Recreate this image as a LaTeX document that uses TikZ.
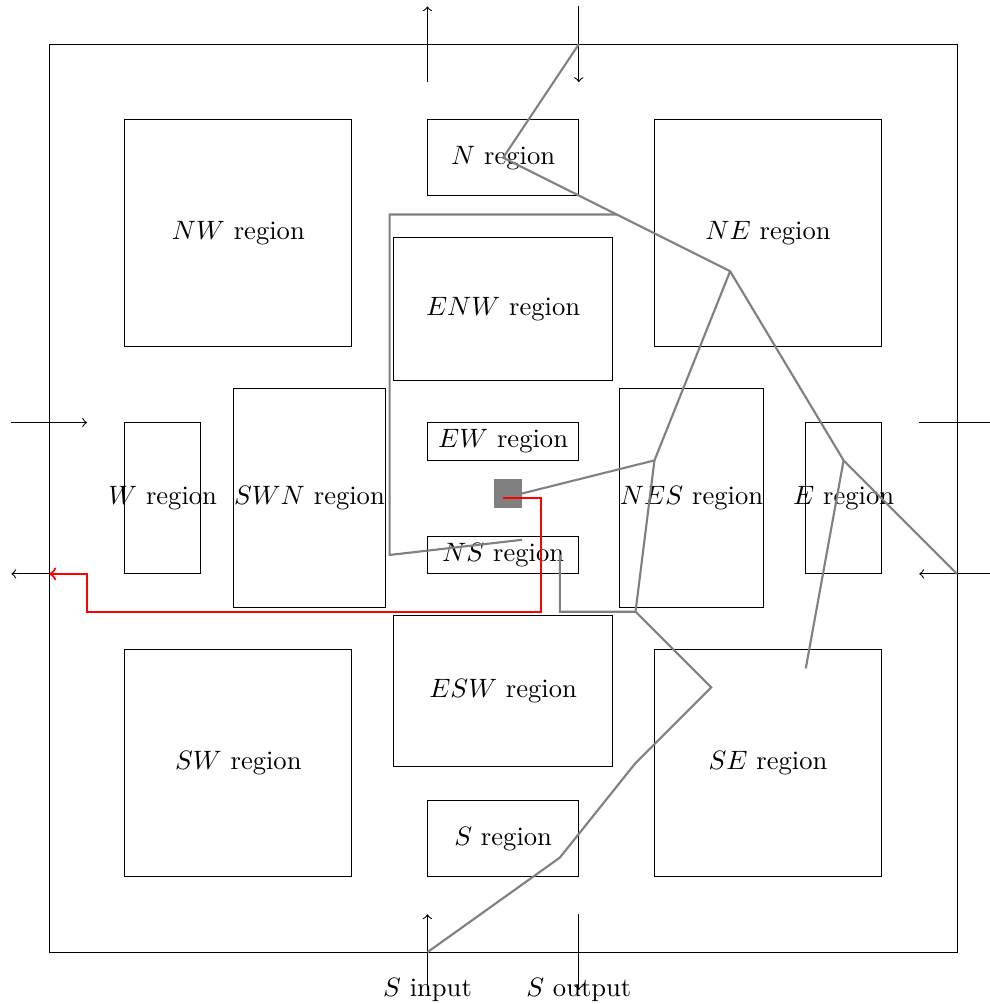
\documentclass[tikz,border=0pt]{standalone}
\usetikzlibrary{positioning,calc}
\tikzset{
  region/.style={draw,rectangle,inner sep=0pt},
  route/.style={draw=gray,thick},
  redpath/.style={draw=red,thick,->},
}
\begin{document}
\begin{tikzpicture}[x=0.5cm,y=0.5cm]
  \useasboundingbox (-1.3,-1.37) rectangle (24.85,25.17);
  \draw (0,0) rectangle (24,24);
  % corner regions
  \node[region,minimum width=3cm,minimum height=3cm,label=center:{$NW$ region}] (nw) at (5,19) {};
  \node[region,minimum width=3cm,minimum height=3cm,label=center:{$NE$ region}] (ne) at (19,19) {};
  \node[region,minimum width=3cm,minimum height=3cm,label=center:{$SW$ region}] (sw) at (5,5) {};
  \node[region,minimum width=3cm,minimum height=3cm,label=center:{$SE$ region}] (se) at (19,5) {};
  % side regions
  \node[region,minimum width=2cm,minimum height=1cm,label=center:{$N$ region}] (n) at (12,21) {};
  \node[region,minimum width=2cm,minimum height=1cm,label=center:{$S$ region}] (s) at (12,3) {};
  \node[region,minimum width=1cm,minimum height=2cm,label=center:{$W$ region}] (w) at (3,12) {};
  \node[region,minimum width=1cm,minimum height=2cm,label=center:{$E$ region}] (e) at (21,12) {};
  % inner regions
  \node[region,minimum width=2.9cm,minimum height=1.9cm,label=center:{$ENW$ region}] (enw) at (12,17) {};
  \node[region,minimum width=2.9cm,minimum height=2cm,label=center:{$ESW$ region}] (esw) at (12,6.9) {};
  \node[region,minimum width=2cm,minimum height=2.9cm,label=center:{$SWN$ region}] (swn) at (6.88,12) {};
  \node[region,minimum width=1.9cm,minimum height=2.9cm,label=center:{$NES$ region}] (nes) at (16.98,12) {};
  \node[region,minimum width=2cm,minimum height=0.5cm,label=center:{$EW$ region}] (ew) at (12,13.5) {};
  \node[region,minimum width=2cm,minimum height=0.5cm,label=center:{$NS$ region}] (ns) at (12,10.5) {};
  % ports
  \draw[->] (10,23) -- (10,25);
  \draw[->] (14,25) -- (14,23);
  \draw[->] (-1,14) -- (1,14);
  \draw[->] (1,10) -- (-1,10);
  \draw[->] (23,14) -- (25,14);
  \draw[->] (25,10) -- (23,10);
  \draw[->] (10,-1) -- (10,1);
  \draw[->] (14,1) -- (14,-1);
  \node (sin) at (10,-1) {$S$ input};
  \node (sout) at (14,-1) {$S$ output};
  % routing tree
  \coordinate (nin) at (14,24);
  \coordinate (nc) at (12,21);
  \coordinate (nec) at (18,18);
  \coordinate (ec) at (21,13);
  \coordinate (eout) at (24,10);
  \coordinate (nesc) at (16,13);
  \coordinate (src) at (12,12);
  \coordinate (sec) at (20,7.5);
  \coordinate (jn) at (15.5,9);
  \coordinate (sin-pt) at (10,0);
  \draw[route] (nin) -- (nc) -- (nec) -- (ec) -- (eout);
  \draw[route] (ec) -- (sec);
  \draw[route] (nec) -- (nesc) -- (src);
  \draw[route] (nesc) -- (jn) -- (13.5,9) -- (13.5,10.5);
  \draw[route] (jn) -- (17.5,7) -- (15.5,5) -- (13.5,2.5) -- (sin-pt);
  \draw[route] ($(nc)!0.5!(nec)$) -- (9,19.5) -- (9,10.5) -- (12.5,10.9);
  % source and path
  \fill[gray] (11.75,11.75) rectangle (12.5,12.5);
  \coordinate (wout) at (0,10);
  \draw[redpath] (src) -| (13,9) -| (1,10) -- (wout);
\end{tikzpicture}
\end{document}
